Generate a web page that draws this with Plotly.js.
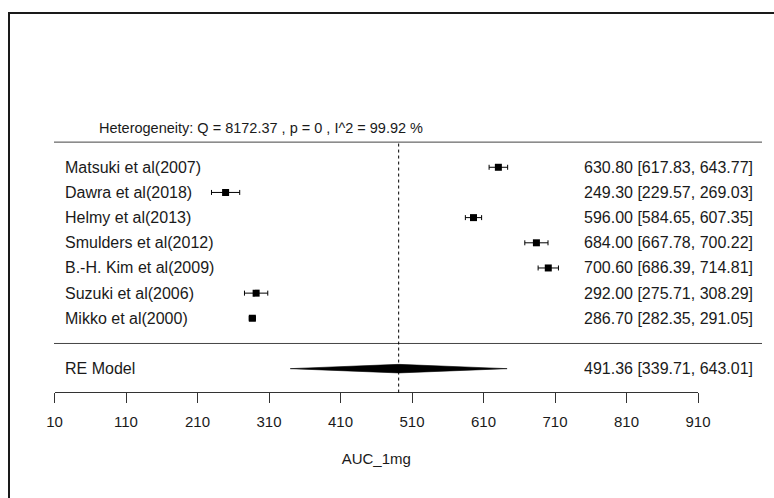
<!DOCTYPE html>
<html>
<head>
<meta charset="utf-8">
<script src="https://cdn.plot.ly/plotly-3.0.1.min.js"></script>
<style>
html,body{margin:0;padding:0;background:#fff;}
#chart{width:774px;height:498px;}
</style>
</head>
<body>
<div id="chart"></div>
<script>
// ---- data ----
const studies = ["Matsuki et al(2007)", "Dawra et al(2018)", "Helmy et al(2013)", "Smulders et al(2012)", "B.-H. Kim et al(2009)", "Suzuki et al(2006)", "Mikko et al(2000)"];
const estimates = [630.80, 249.30, 596.00, 684.00, 700.60, 292.00, 286.70];
const ciLower = [617.83, 229.57, 584.65, 667.78, 686.39, 275.71, 282.35];
const ciUpper = [643.77, 269.03, 607.35, 700.22, 714.81, 308.29, 291.05];
const reLabel = "RE Model";
const reEstimate = 491.36;
const reLower = 339.71;
const reUpper = 643.01;
const hetQ = "8172.37";
const hetP = "0";
const hetI2 = "99.92";
const tickValues = [10, 110, 210, 310, 410, 510, 610, 710, 810, 910];
const xTitle = "AUC_1mg";

// ---- layout helpers ----
const W = 774, H = 498;
const k = studies.length;
const rows = studies.map((s, i) => k - i);
const reRow = -1;
const FONT = "Liberation Sans, Arial, sans-serif";
const TXT = "#1a1a1a";
const px = v => v / W;
const LBL = 16;

const fmt = v => v.toFixed(2);

const traces = [
  {
    type: "scatter", mode: "markers",
    x: estimates, y: rows,
    marker: {symbol: "square", size: 7, color: "#000"},
    error_x: {
      type: "data", symmetric: false,
      array: estimates.map((e, i) => ciUpper[i] - e),
      arrayminus: estimates.map((e, i) => e - ciLower[i]),
      color: "#000", thickness: 1, width: 2.5
    },
    hoverinfo: "skip", showlegend: false
  },
  {
    type: "scatter", mode: "lines",
    x: [reLower, reEstimate, reUpper, reEstimate, reLower],
    y: [reRow, reRow + 0.17, reRow, reRow - 0.17, reRow],
    fill: "toself", fillcolor: "#000",
    line: {color: "#000", width: 0.6},
    hoverinfo: "skip", showlegend: false
  }
];

const annotations = [];
studies.forEach((s, i) => {
  annotations.push({xref: "paper", yref: "y", x: px(63), y: rows[i], text: s,
    xanchor: "left", yanchor: "middle", showarrow: false, font: {family: FONT, size: LBL, color: TXT}});
  annotations.push({xref: "paper", yref: "y", x: px(755), y: rows[i],
    text: fmt(estimates[i]) + " [" + fmt(ciLower[i]) + ", " + fmt(ciUpper[i]) + "]",
    xanchor: "right", yanchor: "middle", showarrow: false, font: {family: FONT, size: LBL, color: TXT}});
});
annotations.push({xref: "paper", yref: "y", x: px(63), y: reRow, text: reLabel,
  xanchor: "left", yanchor: "middle", showarrow: false, font: {family: FONT, size: LBL, color: TXT}});
annotations.push({xref: "paper", yref: "y", x: px(755), y: reRow,
  text: fmt(reEstimate) + " [" + fmt(reLower) + ", " + fmt(reUpper) + "]",
  xanchor: "right", yanchor: "middle", showarrow: false, font: {family: FONT, size: LBL, color: TXT}});
annotations.push({xref: "paper", yref: "y", x: px(97), y: k + 1.57,
  text: "Heterogeneity: Q = " + hetQ + " , p = " + hetP + " , I^2 = " + hetI2 + " %",
  xanchor: "left", yanchor: "middle", showarrow: false, font: {family: FONT, size: 14.5, color: TXT}});

const shapes = [
  // outer frame
  {type: "rect", xref: "paper", yref: "paper", x0: px(9), x1: 1.05, y0: -0.05, y1: 1 - 13 / H,
    line: {color: "#1a1a1a", width: 2}, fillcolor: "rgba(0,0,0,0)"},
  // top rule
  {type: "line", xref: "paper", yref: "y", x0: px(54), x1: px(762), y0: k + 1, y1: k + 1,
    line: {color: "#444", width: 1}},
  // separator
  {type: "line", xref: "paper", yref: "y", x0: px(54), x1: px(762), y0: 0, y1: 0,
    line: {color: "#444", width: 1}},
  // reference line at pooled estimate
  {type: "line", xref: "x", yref: "y", x0: reEstimate, x1: reEstimate, y0: -1.95, y1: k + 1,
    line: {color: "#000", width: 1, dash: "dot"}}
];

const layout = {
  width: W, height: H,
  margin: {l: 0, r: 0, t: 0, b: 0},
  paper_bgcolor: "#fff", plot_bgcolor: "rgba(0,0,0,0)",
  showlegend: false,
  xaxis: {
    domain: [54.5 / W, 698 / W],
    range: [10, 910],
    anchor: "free", position: 1 - 392 / H,
    showline: true, linecolor: "#333", linewidth: 1,
    ticks: "outside", ticklen: 10, tickcolor: "#333", tickwidth: 1,
    ticklabelstandoff: 6,
    tickmode: "array", tickvals: tickValues, ticktext: tickValues.map(String),
    tickfont: {family: FONT, size: 15, color: TXT},
    showgrid: false, zeroline: false, fixedrange: true,
    title: {text: xTitle, font: {family: FONT, size: 15, color: TXT}, standoff: 24}
  },
  yaxis: {
    domain: [0, 1],
    range: [-6.139, 13.646],
    visible: false, showgrid: false, zeroline: false, fixedrange: true
  },
  annotations: annotations,
  shapes: shapes
};

Plotly.newPlot("chart", traces, layout, {displayModeBar: false, staticPlot: true});
</script>
</body>
</html>
